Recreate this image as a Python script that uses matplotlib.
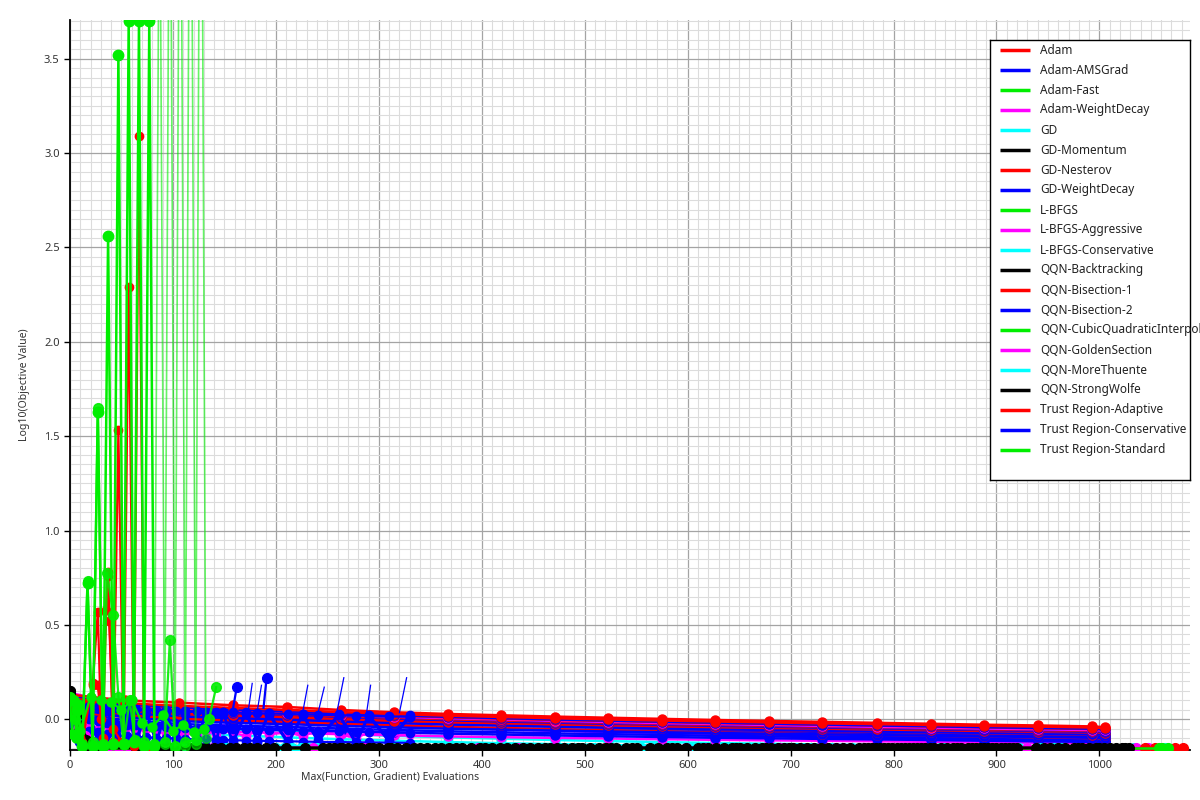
import matplotlib
matplotlib.use("Agg")
import matplotlib.pyplot as plt
from matplotlib.ticker import MultipleLocator, FormatStrFormatter

plt.rcParams['font.family'] = ['Noto Sans', 'DejaVu Sans']

# ---------------- data ----------------
NAMES = ["Adam", "Adam-AMSGrad", "Adam-Fast", "Adam-WeightDecay", "GD", "GD-Momentum",
         "GD-Nesterov", "GD-WeightDecay", "L-BFGS", "L-BFGS-Aggressive", "L-BFGS-Conservative",
         "QQN-Backtracking", "QQN-Bisection-1", "QQN-Bisection-2", "QQN-CubicQuadraticInterpolation",
         "QQN-GoldenSection", "QQN-MoreThuente", "QQN-StrongWolfe", "Trust Region-Adaptive",
         "Trust Region-Conservative", "Trust Region-Standard"]
PALETTE = ["#ff0000", "#0000ff", "#00ee00", "#ff00ff", "#00ffff", "#000000"]

FLOOR = -0.152   # level at which converged runs sit

# shared evaluation counts of the slowly descending runs
LONG_X = [0, 53, 106, 158, 211, 263, 315, 367, 419, 471, 523, 575, 627, 679, 731, 784, 836, 888, 940, 993, 1005]
# red runs
adam_y1 = [0.13, 0.100, 0.088, 0.074, 0.065, 0.049, 0.037, 0.028, 0.021, 0.014, 0.008, 0.002, -0.004, -0.009, -0.014, -0.019, -0.024, -0.029, -0.033, -0.038, -0.042]
adam_y2 = [0.11, 0.085, 0.071, 0.060, 0.050, 0.038, 0.028, 0.019, 0.012, 0.005, -0.001, -0.007, -0.012, -0.017, -0.022, -0.026, -0.031, -0.035, -0.039, -0.044, -0.047]
adam_y3 = [0.10, 0.075, 0.060, 0.049, 0.040, 0.029, 0.019, 0.010, 0.003, -0.004, -0.009, -0.015, -0.021, -0.025, -0.030, -0.034, -0.039, -0.043, -0.048, -0.052, -0.054]
nest_y1 = [0.09, 0.062, 0.048, 0.037, 0.027, 0.017, 0.008, 0.000, -0.007, -0.013, -0.019, -0.025, -0.030, -0.035, -0.040, -0.045, -0.049, -0.054, -0.058, -0.062, -0.064]
nest_y2 = [0.08, 0.045, 0.030, 0.020, 0.012, 0.002, -0.007, -0.015, -0.021, -0.027, -0.032, -0.037, -0.042, -0.046, -0.050, -0.054, -0.058, -0.062, -0.066, -0.070, -0.072]
tra_y1 = [0.06, 0.035, 0.020, 0.009, -0.001, -0.010, -0.018, -0.025, -0.031, -0.037, -0.043, -0.048, -0.053, -0.058, -0.062, -0.066, -0.070, -0.074, -0.078, -0.081, -0.083]
tra_y3 = [0.04, 0.012, 0.000, -0.010, -0.017, -0.027, -0.035, -0.043, -0.048, -0.054, -0.059, -0.064, -0.068, -0.072, -0.076, -0.080, -0.084, -0.087, -0.091, -0.095, -0.097]
bis1_y2 = [0.07, 0.025, 0.010, -0.001, -0.010, -0.021, -0.031, -0.040, -0.046, -0.053, -0.058, -0.064, -0.069, -0.074, -0.078, -0.082, -0.087, -0.091, -0.096, -0.100, -0.102]
# blue runs
ams_y1 = [0.12, 0.080, 0.064, 0.052, 0.042, 0.031, 0.021, 0.013, 0.006, -0.001, -0.007, -0.013, -0.018, -0.023, -0.028, -0.033, -0.037, -0.042, -0.046, -0.050, -0.053]
ams_y2 = [0.10, 0.070, 0.055, 0.043, 0.033, 0.022, 0.013, 0.005, -0.002, -0.009, -0.015, -0.021, -0.026, -0.031, -0.036, -0.041, -0.045, -0.050, -0.054, -0.058, -0.060]
ams_y3 = [0.11, 0.065, 0.045, 0.034, 0.025, 0.014, 0.004, -0.005, -0.012, -0.018, -0.024, -0.029, -0.035, -0.039, -0.044, -0.048, -0.053, -0.057, -0.062, -0.066, -0.068]
gdwd_y1 = [0.08, 0.050, 0.036, 0.025, 0.015, 0.005, -0.004, -0.012, -0.019, -0.025, -0.031, -0.037, -0.042, -0.047, -0.052, -0.057, -0.061, -0.066, -0.070, -0.074, -0.076]
gdwd_y2 = [0.09, 0.035, 0.015, 0.006, -0.002, -0.012, -0.020, -0.028, -0.033, -0.039, -0.044, -0.049, -0.053, -0.057, -0.061, -0.065, -0.069, -0.072, -0.076, -0.080, -0.082]
trc_y1 = [0.07, 0.040, 0.024, 0.012, 0.002, -0.008, -0.017, -0.025, -0.032, -0.039, -0.045, -0.051, -0.057, -0.062, -0.067, -0.072, -0.076, -0.081, -0.085, -0.089, -0.091]
trc_y2 = [0.06, 0.010, -0.010, -0.019, -0.026, -0.035, -0.043, -0.050, -0.055, -0.060, -0.065, -0.069, -0.073, -0.077, -0.080, -0.084, -0.087, -0.091, -0.094, -0.098, -0.100]
bis2_y1 = [0.05, 0.020, 0.004, -0.008, -0.018, -0.028, -0.037, -0.045, -0.052, -0.059, -0.065, -0.071, -0.076, -0.081, -0.086, -0.090, -0.094, -0.098, -0.102, -0.106, -0.108]
bis2_y2 = [0.04, -0.005, -0.025, -0.034, -0.041, -0.049, -0.057, -0.064, -0.069, -0.075, -0.079, -0.083, -0.088, -0.091, -0.095, -0.098, -0.102, -0.105, -0.108, -0.112, -0.114]
bis2_y3 = [0.03, -0.020, -0.040, -0.048, -0.054, -0.062, -0.070, -0.076, -0.081, -0.086, -0.090, -0.094, -0.098, -0.101, -0.104, -0.107, -0.110, -0.114, -0.117, -0.120, -0.121]
# magenta runs
awd_y1 = [0.14, 0.075, 0.058, 0.045, 0.035, 0.024, 0.014, 0.006, -0.001, -0.008, -0.014, -0.020, -0.025, -0.030, -0.035, -0.040, -0.044, -0.049, -0.053, -0.057, -0.059]
awd_y2 = [0.09, 0.030, 0.010, -0.004, -0.016, -0.027, -0.037, -0.046, -0.054, -0.061, -0.068, -0.074, -0.080, -0.085, -0.090, -0.095, -0.099, -0.103, -0.107, -0.111, -0.113]
awd_y3 = [0.05, -0.040, -0.060, -0.067, -0.072, -0.079, -0.085, -0.091, -0.095, -0.099, -0.102, -0.106, -0.109, -0.112, -0.114, -0.117, -0.120, -0.123, -0.125, -0.128, -0.129]
# cyan runs
gd_y1 = [0.04, -0.020, -0.040, -0.055, -0.067, -0.078, -0.088, -0.096, -0.103, -0.110, -0.116, -0.121, -0.126, -0.130, -0.134, -0.138, -0.141, -0.144, -0.147, -0.150, -0.151]
lbc_y1 = [0.02, -0.050, -0.070, -0.085, -0.096, -0.106, -0.114, -0.121, -0.127, -0.132, -0.137, -0.141, -0.145, -0.148, -0.150, -0.151, -0.152, -0.152, -0.152, -0.152, -0.152]

# denser sampled runs in the first 330 evaluations
SHORT_X = [0, 9, 18, 27, 36, 45, 55, 64, 74, 84, 93, 103, 112, 123, 132, 142, 149, 158, 171, 182, 193, 212, 226, 241, 261, 278, 290, 310, 330]
bis2_s1 = [0.10, 0.08, 0.07, 0.065, 0.06, 0.057, 0.054, 0.052, 0.05, 0.048, 0.046, 0.044, 0.043, 0.041, 0.040, 0.038, 0.037, 0.036, 0.034, 0.032, 0.031, 0.028, 0.026, 0.024, 0.021, 0.019, 0.018, 0.015, 0.013]
bis2_s2 = [0.06, 0.02, 0.00, -0.01, -0.02, -0.025, -0.03, -0.033, -0.036, -0.038, -0.04, -0.042, -0.044, -0.046, -0.047, -0.049, -0.050, -0.051, -0.053, -0.055, -0.056, -0.058, -0.060, -0.062, -0.064, -0.066, -0.067, -0.069, -0.071]
gdwd_s1 = [0.02, -0.04, -0.06, -0.07, -0.08, -0.085, -0.09, -0.093, -0.096, -0.098, -0.10, -0.102, -0.104, -0.106, -0.107, -0.109, -0.110, -0.111, -0.113, -0.114, -0.115, -0.117, -0.118, -0.120, -0.121, -0.122, -0.123, -0.124, -0.125]
trc_s1 = [-0.02, -0.08, -0.10, -0.11, -0.12, -0.125, -0.13, -0.132, -0.134, -0.136, -0.138, -0.139, -0.140, -0.141, -0.142, -0.143, -0.144, -0.145, -0.146, -0.147, -0.147, -0.148, -0.149, -0.149, -0.150, -0.150, -0.151, -0.151, -0.152]
ams_s1 = [0.05, -0.12, 0.04, -0.13, 0.045, -0.12, 0.04, -0.13, 0.035, -0.13, 0.04, -0.12, 0.03, -0.13, 0.035, -0.12, 0.03, -0.13, 0.03, -0.12, 0.025, -0.13, 0.02, -0.12, 0.02, -0.13, 0.015, -0.12, 0.01]
gdwd_s2 = [0.08, -0.10, 0.06, -0.11, 0.05, -0.10, 0.06, -0.11, 0.05, -0.12, 0.05, -0.11, 0.045, -0.12, 0.04, -0.11, 0.04, -0.12, 0.04, -0.11, 0.035, -0.12, 0.03, -0.11, 0.03, -0.12, 0.025, -0.11, 0.02]
awd_s1 = [0.15, -0.02, -0.04, -0.05, -0.03, -0.06, -0.04, -0.07, -0.05, -0.06, -0.08, -0.05, -0.07, -0.09, -0.06, -0.08, -0.05, -0.07, -0.09, -0.06, -0.08, -0.07, -0.09, -0.06, -0.08, -0.10, -0.07, -0.09, -0.08]

# thin upward excursions of QQN-Bisection-2
SPIKE_X0 = [158, 172, 180, 188, 226, 241, 259, 288, 320]
SPIKE_Y0 = [0.045, 0.00, -0.02, 0.06, 0.035, 0.035, 0.03, 0.03, 0.035]
SPIKE_X1 = [162, 177, 186, 191, 231, 247, 266, 292, 327]
SPIKE_Y1 = [0.17, 0.19, 0.18, 0.22, 0.18, 0.17, 0.22, 0.18, 0.22]
SPIKE_MARK = [True, False, False, True, False, False, False, False, False]

# oscillating runs in the first 130 evaluations
lbfgs_x = [0, 7, 12, 17, 22, 27, 32, 37, 42, 47, 52, 57, 62, 67, 72, 77, 82]
lbfgs_y = [0.10, 0.05, -0.14, 0.72, -0.14, 1.63, -0.14, 2.56, -0.13, 3.52, -0.13, 3.70, -0.12, 3.70, -0.14, 3.70, -0.14]
trs_x = [82, 87, 92, 97, 102, 107, 112, 117, 122, 127, 132]
trs_y = [-0.14, 4.8, -0.13, 5.2, -0.15, 5.5, -0.14, 5.8, -0.13, 6.0, -0.10]
cubic_x = [0, 5, 12, 17, 22, 27, 32, 36, 42, 47, 52, 58, 63, 72, 82, 92, 97, 102, 112, 122, 135, 142]
cubic_y = [0.12, 0.00, -0.13, 0.73, -0.12, 1.65, -0.13, 0.775, 0.55, 0.12, -0.13, 0.10, -0.11, -0.12, -0.13, -0.12, 0.42, -0.14, -0.12, -0.11, 0.00, 0.17]
fast_x = [0, 2, 4, 6, 8, 10, 20, 30, 40, 50, 60, 70, 80, 90, 100, 110, 120, 130]
fast_y = [0.12, -0.08, 0.10, -0.10, 0.08, -0.06, 0.12, 0.10, 0.09, 0.05, 0.10, -0.02, -0.04, 0.02, -0.06, -0.03, -0.07, -0.05]
bis1_x = [0, 12, 22, 27, 32, 35, 37, 42, 47, 52, 57, 62, 67, 72, 80]
bis1_y = [0.08, -0.12, 0.19, 0.18, -0.10, 0.58, 0.78, -0.12, 1.53, -0.13, 2.29, -0.14, 3.09, -0.14, -0.15]
tra_x2 = [0, 10, 22, 27, 30, 37, 38, 42, 50]
tra_y2 = [0.05, -0.10, 0.18, 0.57, 0.00, 0.76, 0.52, -0.05, -0.12]

# runs that reach the floor quickly
gdm_x = [0, 5, 12, 19, 64, 71, 118, 126, 161, 169, 246, 252, 270, 290, 300, 326, 340, 355, 381, 398, 410, 432, 447, 466, 480, 497, 521, 530, 551, 563, 590, 610, 620, 643, 658, 672, 681, 694, 716, 736, 775, 783, 791, 799, 807, 815, 823, 846, 872, 880, 888, 896, 904, 912, 938, 960, 975, 990, 1004, 1016, 1029]
qbt_x = [0, 8, 16, 25, 80, 88, 132, 140, 175, 182, 262, 278, 283, 309, 318, 334, 347, 368, 375, 390, 418, 425, 440, 455, 473, 488, 505, 514, 540, 571, 580, 598, 628, 635, 651, 665, 688, 702, 709, 723, 744, 751, 779, 787, 795, 803, 811, 819, 827, 835, 858, 866, 876, 884, 892, 900, 908, 916, 946, 967, 983, 997, 1010, 1022]
qsw_x = [0, 3, 9, 17, 96, 104, 147, 155, 190, 198, 210, 228, 256, 264, 294, 312, 360, 403, 461, 493, 526, 546, 585, 615, 647, 676, 698, 730, 758, 766, 771, 831, 839, 852, 862, 920, 952, 979, 1000, 1025]
qmt_x = [0, 6, 13, 30, 38, 46, 56, 110, 152, 200, 208, 216, 224, 232, 240, 315, 405, 436, 476, 509, 556, 567, 603, 640, 661, 705, 740, 760, 845, 850, 922, 930, 943, 956, 963, 1034, 1064]
gold_x = [0, 8, 20, 35, 50, 62, 236, 396, 470, 521, 618, 744, 828, 867, 930, 1036, 1047]
lba_x = [0, 6, 15, 28, 44, 57, 139, 286, 435, 598, 690]
nest_x2 = [14, 520, 1044, 1054, 1073, 1081]
cubic_x2 = [25, 1058, 1061, 1067]
START_GDM = [0.15, 0.05, -0.10]
START_QBT = [0.14, 0.03, -0.11]
START_QSW = [0.15, 0.08, -0.06]
START_QMT = [0.13, 0.00, -0.12]
START_GOLD = [0.14, -0.05, -0.12]
START_LBA = [0.13, 0.02, -0.09]


def floor_run(xs, start):
    return xs, list(start) + [FLOOR] * (len(xs) - len(start))


COLOR = {n: PALETTE[i % 6] for i, n in enumerate(NAMES)}

# slowly descending runs, drawn in this order
BAND = [
    ("GD", LONG_X, gd_y1), ("L-BFGS-Conservative", LONG_X, lbc_y1),
    ("Adam-WeightDecay", LONG_X, awd_y3), ("Adam-WeightDecay", LONG_X, awd_y2),
    ("QQN-Bisection-2", LONG_X, bis2_y3), ("QQN-Bisection-2", LONG_X, bis2_y2),
    ("QQN-Bisection-2", LONG_X, bis2_y1), ("Trust Region-Adaptive", LONG_X, tra_y3),
    ("QQN-Bisection-1", LONG_X, bis1_y2), ("Trust Region-Conservative", LONG_X, trc_y2),
    ("Trust Region-Conservative", LONG_X, trc_y1), ("Trust Region-Adaptive", LONG_X, tra_y1),
    ("GD-WeightDecay", LONG_X, gdwd_y2), ("GD-WeightDecay", LONG_X, gdwd_y1),
    ("GD-Nesterov", LONG_X, nest_y2), ("Adam-AMSGrad", LONG_X, ams_y3),
    ("GD-Nesterov", LONG_X, nest_y1), ("Adam-AMSGrad", LONG_X, ams_y2),
    ("Adam-WeightDecay", LONG_X, awd_y1), ("Adam", LONG_X, adam_y3),
    ("Adam-AMSGrad", LONG_X, ams_y1), ("Adam", LONG_X, adam_y2), ("Adam", LONG_X, adam_y1),
]
SHORT = [
    ("Adam-WeightDecay", awd_s1), ("Trust Region-Conservative", trc_s1), ("GD-WeightDecay", gdwd_s1),
    ("Adam-AMSGrad", ams_s1), ("GD-WeightDecay", gdwd_s2), ("QQN-Bisection-2", bis2_s2),
    ("QQN-Bisection-2", bis2_s1),
]
FLOORS = [
    ("QQN-MoreThuente", qmt_x, START_QMT), ("L-BFGS-Aggressive", lba_x, START_LBA),
    ("QQN-GoldenSection", gold_x, START_GOLD), ("GD-Nesterov", nest_x2, []),
    ("QQN-CubicQuadraticInterpolation", cubic_x2, []),
    ("QQN-StrongWolfe", qsw_x, START_QSW), ("QQN-Backtracking", qbt_x, START_QBT),
    ("GD-Momentum", gdm_x, START_GDM),
]

# ---------------- figure ----------------
fig = plt.figure(figsize=(12, 8), dpi=100)
ax = fig.add_axes([70 / 1200, 50 / 800, 1120 / 1200, 730 / 800])

for name, xs, ys in BAND:
    ax.plot(xs, ys, color=COLOR[name], lw=1.8, marker='o', ms=6.5, zorder=3)
for name, ys in SHORT:
    ax.plot(SHORT_X, ys, color=COLOR[name], lw=1.6, marker='o', ms=6, zorder=3.2)
for name, xs, start in FLOORS:
    fx, fy = floor_run(xs, start)
    ax.plot(fx, fy, color=COLOR[name], lw=1.8, marker='o', ms=7, zorder=3.5)

spike_c = COLOR["QQN-Bisection-2"]
for x0, y0, x1, y1, mk in zip(SPIKE_X0, SPIKE_Y0, SPIKE_X1, SPIKE_Y1, SPIKE_MARK):
    if mk:
        ax.plot([x0, x1], [y0, y1], color=spike_c, lw=1.6, zorder=4)
        ax.plot([x1], [y1], color=spike_c, marker='o', ms=7, zorder=4)
    else:
        ax.plot([x0, x1], [y0, y1], color=spike_c, lw=0.9, zorder=4)

ax.plot(bis1_x, bis1_y, color=COLOR["QQN-Bisection-1"], lw=1.6, marker='o', ms=6, zorder=4)
ax.plot(tra_x2, tra_y2, color=COLOR["Trust Region-Adaptive"], lw=1.6, marker='o', ms=6, zorder=4)
ax.plot(fast_x, fast_y, color=COLOR["Adam-Fast"], lw=1.6, marker='o', ms=6.5, zorder=5)
ax.plot(cubic_x, cubic_y, color=COLOR["QQN-CubicQuadraticInterpolation"], lw=1.6, marker='o', ms=7, zorder=5, alpha=0.9)
ax.plot(trs_x, trs_y, color=COLOR["Trust Region-Standard"], lw=1.2, marker='o', ms=7, zorder=5, alpha=0.6)
ax.plot(lbfgs_x, lbfgs_y, color=COLOR["L-BFGS"], lw=1.8, marker='o', ms=7.5, zorder=6)

ax.set_xlim(0, 1088)
ax.set_ylim(-0.163, 3.705)
ax.xaxis.set_major_locator(MultipleLocator(100))
ax.xaxis.set_minor_locator(MultipleLocator(10))
ax.yaxis.set_major_locator(MultipleLocator(0.5))
ax.yaxis.set_minor_locator(MultipleLocator(0.05))
ax.yaxis.set_major_formatter(FormatStrFormatter('%.1f'))
ax.grid(which='major', color='#a4a4a4', lw=0.9, zorder=0)
ax.grid(which='minor', color='#dcdcdc', lw=0.8, zorder=0)
ax.set_axisbelow(True)
for s in ('top', 'right'):
    ax.spines[s].set_visible(False)
for s in ('left', 'bottom'):
    ax.spines[s].set_linewidth(1.3)
    ax.spines[s].set_color('black')
ax.tick_params(which='major', length=4, width=1, labelsize=8, labelcolor='#333333', color='black')
ax.tick_params(which='minor', length=0)

ax.set_xlabel("Max(Function, Gradient) Evaluations", fontsize=7.5, color='#333333')
ax.xaxis.set_label_coords((390 - 70) / 1120, -0.030)
ax.set_ylabel("Log10(Objective Value)", fontsize=7.5, color='#333333')
ax.yaxis.set_label_coords(-0.036, 0.5)

# legend box (fixed width, text may run past the figure edge as in the original)
lax = fig.add_axes([990 / 1200, 320 / 800, 200 / 1200, 440 / 800])
lax.set_xlim(0, 200)
lax.set_ylim(440, 0)
lax.set_xticks([])
lax.set_yticks([])
lax.patch.set_facecolor('white')
for s in lax.spines.values():
    s.set_linewidth(1.0)
    s.set_color('black')
for i, name in enumerate(NAMES):
    yy = 10 + 20 * i
    lax.plot([10, 40], [yy, yy], color=COLOR[name], lw=2.5, solid_capstyle='butt')
    lax.text(50, yy, name, fontsize=8.5, color='#222222', va='center', ha='left', clip_on=False)

fig.savefig("out.png", dpi=100)
